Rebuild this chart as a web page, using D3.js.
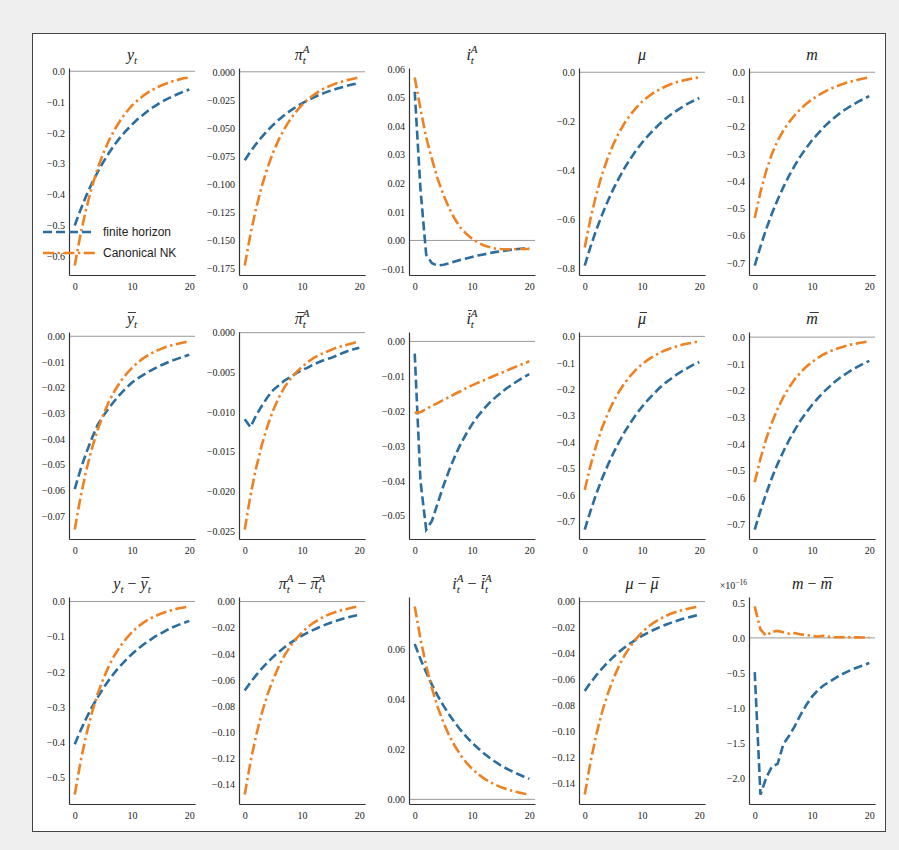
<!DOCTYPE html>
<html>
<head>
<meta charset="utf-8">
<script src="https://cdn.jsdelivr.net/npm/d3@7"></script>
<style>
  html, body { margin: 0; padding: 0; background: #efefef; }
  svg { display: block; }
</style>
</head>
<body>
<svg id="chart" width="899" height="850"></svg>
<script>
// horizon (quarters after the shock)
const periods = [0, 1, 2, 3, 4, 5, 6, 7, 8, 9, 10, 11, 12, 13, 14, 15, 16, 17, 18, 19, 20];
const seriesNames = ["finite horizon", "Canonical NK"];

// row 1: levels
const y_fh = [-0.500, -0.450, -0.404, -0.363, -0.327, -0.294, -0.264, -0.237, -0.213, -0.192, -0.173, -0.155, -0.140, -0.125, -0.113, -0.101, -0.091, -0.082, -0.074, -0.066, -0.059];
const y_nk = [-0.630, -0.530, -0.446, -0.375, -0.315, -0.265, -0.223, -0.188, -0.158, -0.133, -0.111, -0.094, -0.079, -0.066, -0.056, -0.047, -0.040, -0.033, -0.028, -0.023, -0.020];
const pi_fh = [-0.0790, -0.0713, -0.0643, -0.0580, -0.0523, -0.0472, -0.0425, -0.0384, -0.0346, -0.0312, -0.0281, -0.0254, -0.0229, -0.0206, -0.0186, -0.0168, -0.0152, -0.0137, -0.0123, -0.0111, -0.0100];
const pi_nk = [-0.1730, -0.1450, -0.1215, -0.1017, -0.0853, -0.0714, -0.0599, -0.0502, -0.0420, -0.0353, -0.0296, -0.0247, -0.0208, -0.0173, -0.0145, -0.0123, -0.0102, -0.0087, -0.0073, -0.0061, -0.0050];
const i_fh = [0.0520, 0.0180, -0.0050, -0.0080, -0.0088, -0.0085, -0.0080, -0.0074, -0.0068, -0.0063, -0.0058, -0.0053, -0.0049, -0.0045, -0.0041, -0.0038, -0.0035, -0.0032, -0.0030, -0.0028, -0.0026];
const i_nk = [0.0570, 0.0460, 0.0360, 0.0285, 0.0215, 0.0160, 0.0113, 0.0075, 0.0045, 0.0023, 0.0006, -0.0007, -0.0017, -0.0023, -0.0028, -0.0030, -0.0031, -0.0031, -0.0030, -0.0030, -0.0030];
const mu_fh = [-0.787, -0.711, -0.643, -0.582, -0.526, -0.475, -0.430, -0.388, -0.351, -0.317, -0.287, -0.260, -0.235, -0.212, -0.191, -0.173, -0.157, -0.142, -0.128, -0.116, -0.105];
const mu_nk = [-0.713, -0.597, -0.500, -0.418, -0.350, -0.293, -0.245, -0.205, -0.172, -0.144, -0.120, -0.101, -0.084, -0.071, -0.059, -0.049, -0.041, -0.035, -0.029, -0.024, -0.021];
const m_fh = [-0.710, -0.640, -0.576, -0.519, -0.468, -0.422, -0.380, -0.342, -0.308, -0.278, -0.250, -0.226, -0.203, -0.183, -0.165, -0.148, -0.134, -0.121, -0.109, -0.098, -0.088];
const m_nk = [-0.535, -0.440, -0.362, -0.300, -0.252, -0.214, -0.183, -0.157, -0.135, -0.116, -0.100, -0.086, -0.074, -0.063, -0.054, -0.046, -0.039, -0.033, -0.028, -0.023, -0.019];

// row 2: bar variables
const ybar_fh = [-0.0595, -0.0520, -0.0455, -0.0397, -0.0345, -0.0310, -0.0278, -0.0250, -0.0224, -0.0201, -0.0180, -0.0164, -0.0150, -0.0137, -0.0125, -0.0114, -0.0104, -0.0095, -0.0087, -0.0079, -0.0072];
const ybar_nk = [-0.0753, -0.0628, -0.0524, -0.0437, -0.0364, -0.0304, -0.0253, -0.0211, -0.0176, -0.0147, -0.0123, -0.0102, -0.0085, -0.0071, -0.0059, -0.0050, -0.0041, -0.0035, -0.0029, -0.0024, -0.0020];
const pibar_fh = [-0.0109, -0.0119, -0.0104, -0.0092, -0.0081, -0.0072, -0.0066, -0.0060, -0.0056, -0.0051, -0.0047, -0.0044, -0.0040, -0.0037, -0.0034, -0.0032, -0.0029, -0.0026, -0.0023, -0.0021, -0.0019];
const pibar_nk = [-0.0248, -0.0205, -0.0170, -0.0141, -0.0117, -0.0097, -0.0081, -0.0068, -0.0058, -0.0050, -0.0043, -0.0037, -0.0032, -0.0028, -0.0025, -0.0022, -0.0019, -0.0017, -0.0015, -0.0013, -0.0011];
const ibar_fh = [-0.0035, -0.0400, -0.0540, -0.0515, -0.0465, -0.0415, -0.0370, -0.0330, -0.0295, -0.0265, -0.0238, -0.0215, -0.0195, -0.0177, -0.0162, -0.0148, -0.0135, -0.0124, -0.0113, -0.0103, -0.0094];
const ibar_nk = [-0.0205, -0.0203, -0.0194, -0.0185, -0.0177, -0.0168, -0.0160, -0.0151, -0.0143, -0.0134, -0.0126, -0.0119, -0.0112, -0.0105, -0.0098, -0.0091, -0.0084, -0.0077, -0.0070, -0.0064, -0.0057];
const mubar_fh = [-0.730, -0.660, -0.596, -0.539, -0.488, -0.441, -0.399, -0.360, -0.326, -0.294, -0.266, -0.241, -0.218, -0.196, -0.177, -0.161, -0.145, -0.131, -0.119, -0.107, -0.097];
const mubar_nk = [-0.580, -0.489, -0.412, -0.347, -0.293, -0.247, -0.208, -0.176, -0.148, -0.125, -0.105, -0.089, -0.075, -0.063, -0.053, -0.045, -0.038, -0.032, -0.027, -0.023, -0.019];
const mbar_fh = [-0.720, -0.649, -0.585, -0.526, -0.474, -0.428, -0.385, -0.347, -0.312, -0.282, -0.254, -0.229, -0.206, -0.186, -0.167, -0.150, -0.136, -0.122, -0.110, -0.099, -0.089];
const mbar_nk = [-0.543, -0.455, -0.381, -0.319, -0.268, -0.224, -0.188, -0.157, -0.132, -0.111, -0.093, -0.078, -0.065, -0.054, -0.046, -0.039, -0.032, -0.027, -0.023, -0.019, -0.016];

// row 3: gaps
const ygap_fh = [-0.405, -0.367, -0.332, -0.300, -0.272, -0.246, -0.222, -0.201, -0.182, -0.165, -0.149, -0.135, -0.122, -0.111, -0.100, -0.091, -0.082, -0.074, -0.067, -0.061, -0.055];
const ygap_nk = [-0.548, -0.456, -0.379, -0.316, -0.262, -0.219, -0.182, -0.151, -0.126, -0.105, -0.087, -0.072, -0.060, -0.050, -0.042, -0.035, -0.029, -0.024, -0.020, -0.017, -0.014];
const pigap_fh = [-0.0680, -0.0618, -0.0562, -0.0510, -0.0464, -0.0421, -0.0383, -0.0347, -0.0316, -0.0287, -0.0261, -0.0237, -0.0216, -0.0196, -0.0178, -0.0162, -0.0147, -0.0133, -0.0121, -0.0110, -0.0100];
const pigap_nk = [-0.1475, -0.1227, -0.1021, -0.0850, -0.0707, -0.0589, -0.0490, -0.0407, -0.0339, -0.0282, -0.0235, -0.0195, -0.0162, -0.0136, -0.0112, -0.0093, -0.0078, -0.0065, -0.0055, -0.0044, -0.0037];
const igap_fh = [0.0620, 0.0560, 0.0507, 0.0458, 0.0414, 0.0374, 0.0339, 0.0306, 0.0277, 0.0250, 0.0226, 0.0205, 0.0185, 0.0167, 0.0151, 0.0136, 0.0123, 0.0112, 0.0101, 0.0091, 0.0082];
const igap_nk = [0.0770, 0.0641, 0.0533, 0.0444, 0.0369, 0.0307, 0.0256, 0.0213, 0.0177, 0.0147, 0.0122, 0.0102, 0.0085, 0.0071, 0.0059, 0.0049, 0.0041, 0.0034, 0.0028, 0.0023, 0.0019];
const mugap_fh = [-0.0690, -0.0627, -0.0570, -0.0518, -0.0470, -0.0427, -0.0388, -0.0353, -0.0321, -0.0291, -0.0265, -0.0241, -0.0219, -0.0199, -0.0181, -0.0164, -0.0149, -0.0135, -0.0123, -0.0112, -0.0101];
const mugap_nk = [-0.1490, -0.1240, -0.1031, -0.0858, -0.0714, -0.0595, -0.0495, -0.0411, -0.0343, -0.0285, -0.0237, -0.0197, -0.0164, -0.0137, -0.0113, -0.0094, -0.0079, -0.0066, -0.0055, -0.0045, -0.0037];
// in units of 1e-16 (numerical noise)
const mgap_fh = [-0.49, -2.24, -2.00, -1.84, -1.80, -1.52, -1.40, -1.26, -1.10, -0.96, -0.84, -0.75, -0.68, -0.63, -0.58, -0.53, -0.49, -0.45, -0.42, -0.39, -0.36];
const mgap_nk = [0.45, 0.12, 0.03, 0.09, 0.10, 0.08, 0.06, 0.07, 0.05, 0.04, 0.03, 0.02, 0.03, 0.015, 0.01, 0.01, 0.012, 0.008, 0.008, 0.006, 0.005];

// tick labels
const xTicks = ["0", "10", "20"];
const ticks_1dec8 = ["0.0", "−0.1", "−0.2", "−0.3", "−0.4", "−0.5", "−0.6", "−0.7"];
const ticks_y = ["0.0", "−0.1", "−0.2", "−0.3", "−0.4", "−0.5", "−0.6"];
const ticks_pi = ["0.000", "−0.025", "−0.050", "−0.075", "−0.100", "−0.125", "−0.150", "−0.175"];
const ticks_i = ["0.06", "0.05", "0.04", "0.03", "0.02", "0.01", "0.00", "−0.01"];
const ticks_mu = ["0.0", "−0.2", "−0.4", "−0.6", "−0.8"];
const ticks_ybar = ["0.00", "−0.01", "−0.02", "−0.03", "−0.04", "−0.05", "−0.06", "−0.07"];
const ticks_pibar = ["0.000", "−0.005", "−0.010", "−0.015", "−0.020", "−0.025"];
const ticks_ibar = ["0.00", "−0.01", "−0.02", "−0.03", "−0.04", "−0.05"];
const ticks_ygap = ["0.0", "−0.1", "−0.2", "−0.3", "−0.4", "−0.5"];
const ticks_gap2 = ["0.00", "−0.02", "−0.04", "−0.06", "−0.08", "−0.10", "−0.12", "−0.14"];
const ticks_igap = ["0.00", "0.02", "0.04", "0.06"];
const ticks_mgap = ["0.5", "0.0", "−0.5", "−1.0", "−1.5", "−2.0"];

const M = "\u00a0−\u00a0"; // binary minus
const panels = [
  { title: [["y", "it"], ["t", "sub"]], fh: y_fh, nk: y_nk, ticks: ticks_y },
  { title: [["π", "it"], ["t|A", "subsup"]], fh: pi_fh, nk: pi_nk, ticks: ticks_pi },
  { title: [["i", "it"], ["t|A", "subsup"]], fh: i_fh, nk: i_nk, ticks: ticks_i },
  { title: [["μ", "it"]], fh: mu_fh, nk: mu_nk, ticks: ticks_mu },
  { title: [["m", "it"]], fh: m_fh, nk: m_nk, ticks: ticks_1dec8 },
  { title: [["y", "bar"], ["t", "sub"]], fh: ybar_fh, nk: ybar_nk, ticks: ticks_ybar },
  { title: [["π", "bar"], ["t|A", "subsup"]], fh: pibar_fh, nk: pibar_nk, ticks: ticks_pibar },
  { title: [["i", "bar"], ["t|A", "subsup"]], fh: ibar_fh, nk: ibar_nk, ticks: ticks_ibar },
  { title: [["μ", "bar"]], fh: mubar_fh, nk: mubar_nk, ticks: ticks_1dec8 },
  { title: [["m", "bar"]], fh: mbar_fh, nk: mbar_nk, ticks: ticks_1dec8 },
  { title: [["y", "it"], ["t", "sub"], [M, "rm"], ["y", "bar"], ["t", "sub"]], fh: ygap_fh, nk: ygap_nk, ticks: ticks_ygap },
  { title: [["π", "it"], ["t|A", "subsup"], [M, "rm"], ["π", "bar"], ["t|A", "subsup"]], fh: pigap_fh, nk: pigap_nk, ticks: ticks_gap2 },
  { title: [["i", "it"], ["t|A", "subsup"], [M, "rm"], ["i", "bar"], ["t|A", "subsup"]], fh: igap_fh, nk: igap_nk, ticks: ticks_igap },
  { title: [["μ", "it"], [M, "rm"], ["μ", "bar"]], fh: mugap_fh, nk: mugap_nk, ticks: ticks_gap2 },
  { title: [["m", "it"], [M, "rm"], ["m", "bar"]], fh: mgap_fh, nk: mgap_nk, ticks: ticks_mgap, offset: "−16" },
];

const SERIF = "'Liberation Serif', 'DejaVu Serif', serif";
const BLUE = "#2a6d9e", ORANGE = "#ee8222";
const axW = 126, axH = 207;
const colLeft = [69, 239, 409, 579, 749];
const rowTop = [68, 332, 597];

const svg = d3.select("#chart");
svg.append("rect")
  .attr("x", 32.5).attr("y", 33.5).attr("width", 853).attr("height", 798)
  .attr("fill", "#fff").attr("stroke", "#444");

// matplotlib-like autoscale: 5% margins, pull in 0 if it falls outside
function yDomain(vals) {
  let [lo, hi] = d3.extent(vals);
  let pad = (hi - lo) * 0.05;
  if (hi + pad < 0) { hi = 0; pad = (hi - lo) * 0.05; }
  return [lo - pad, hi + pad];
}

function drawTitle(g, parts, cx, cy) {
  const t = g.append("text").attr("x", cx).attr("y", cy)
    .attr("text-anchor", "middle").attr("font-family", SERIF)
    .attr("font-size", 16).attr("fill", "#222");
  let shift = 0;
  const barred = [];
  parts.forEach(([s, kind]) => {
    if (kind === "sub") {
      t.append("tspan").attr("dy", 4 - shift).attr("font-size", 11)
        .attr("font-style", "italic").text(s);
      shift = 4;
    } else if (kind === "subsup") {
      const [lo, hi] = s.split("|");
      const a = t.append("tspan").attr("dy", 4 - shift).attr("font-size", 11)
        .attr("font-style", "italic").text(lo);
      const w = a.node().getComputedTextLength();
      t.append("tspan").attr("dx", -w).attr("dy", -11).attr("font-size", 11)
        .attr("font-style", "italic").text(hi);
      shift = -7;
    } else {
      const ts = t.append("tspan").attr("dy", -shift)
        .attr("font-style", kind === "rm" ? "normal" : "italic").text(s);
      if (kind === "bar") barred.push([ts, s]);
      shift = 0;
    }
  });
  // overbars drawn as short rules above the barred letters
  barred.forEach(([ts, s]) => {
    const b = ts.node().getBBox();
    const lift = s === "i" ? 13.5 : 11.5;
    g.append("line")
      .attr("x1", b.x + b.width * 0.25 + 0.5).attr("x2", b.x + b.width + 1)
      .attr("y1", cy - lift).attr("y2", cy - lift)
      .attr("stroke", "#222").attr("stroke-width", 0.9);
  });
}

const x = d3.scaleLinear().domain([-1, 21]).range([0, axW]);
const line = y => d3.line().x((d, i) => x(periods[i])).y(d => y(d));

panels.forEach((p, k) => {
  const left = colLeft[k % 5], top = rowTop[Math.floor(k / 5)];
  const g = svg.append("g").attr("transform", `translate(${left},${top})`);
  const y = d3.scaleLinear().domain(yDomain(p.fh.concat(p.nk))).range([axH, 0]);

  g.append("line")
    .attr("x1", 0).attr("x2", axW).attr("y1", y(0)).attr("y2", y(0))
    .attr("stroke", "#9a9a9a").attr("stroke-width", 1);

  g.append("path").datum(p.fh)
    .attr("d", line(y)).attr("fill", "none")
    .attr("stroke", BLUE).attr("stroke-width", 2.6)
    .attr("stroke-dasharray", "9,4");
  g.append("path").datum(p.nk)
    .attr("d", line(y)).attr("fill", "none")
    .attr("stroke", ORANGE).attr("stroke-width", 2.6)
    .attr("stroke-dasharray", "11,3.5,2.4,3.5");

  const yVals = p.ticks.map(s => +s.replace("−", "-"));
  const yAxis = g.append("g").call(
    d3.axisLeft(y).tickValues(yVals).tickFormat((d, i) => p.ticks[i])
      .tickSize(0).tickSizeOuter(0).tickPadding(4));
  const xAxis = g.append("g").attr("transform", `translate(0,${axH})`).call(
    d3.axisBottom(x).tickValues(xTicks.map(Number)).tickFormat((d, i) => xTicks[i])
      .tickSize(0).tickSizeOuter(0).tickPadding(8));
  [yAxis, xAxis].forEach(a => {
    a.attr("font-family", SERIF).attr("font-size", 10);
    a.select(".domain").attr("stroke", "#333").attr("stroke-width", 1.2);
    a.selectAll("text").attr("fill", "#222");
  });

  drawTitle(g, p.title, axW / 2, -8);

  if (p.offset) {
    g.append("text").attr("x", -2).attr("y", -8).attr("text-anchor", "end")
      .attr("font-family", SERIF).attr("font-size", 10).attr("fill", "#222")
      .text("×10")
      .append("tspan").attr("dy", -4).attr("font-size", 7.5).text(p.offset);
  }
});

// legend inside the first panel
const lg = svg.append("g").attr("transform", `translate(${colLeft[0] - 26},${rowTop[0] + 164})`);
[[BLUE, "9,4"], [ORANGE, "11,3.5,2.4,3.5"]].forEach(([c, dash], i) => {
  const row = lg.append("g").attr("transform", `translate(0,${i * 21})`);
  row.append("line").attr("x1", 0).attr("x2", 52).attr("y1", 0).attr("y2", 0)
    .attr("stroke", c).attr("stroke-width", 2.6).attr("stroke-dasharray", dash);
  row.append("text").attr("x", 60).attr("y", 4)
    .attr("font-family", "'Liberation Sans', 'DejaVu Sans', sans-serif")
    .attr("font-size", 12).attr("fill", "#222").text(seriesNames[i]);
});
</script>
</body>
</html>
